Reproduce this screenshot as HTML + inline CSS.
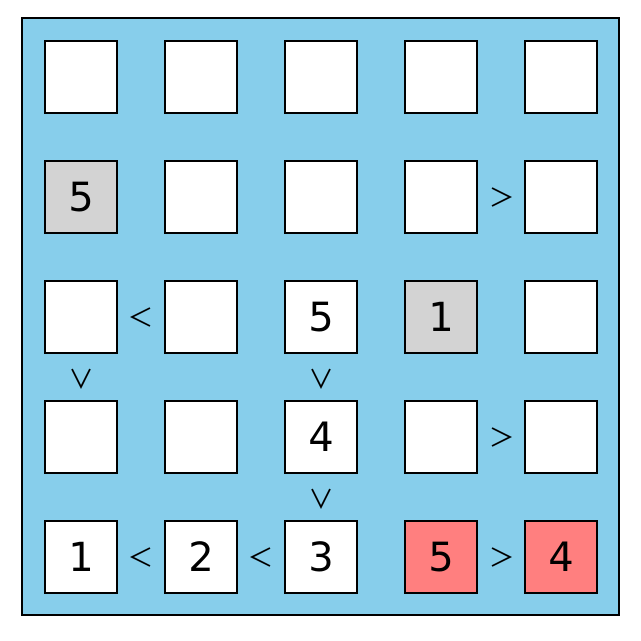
<!DOCTYPE html>
<html><head><style>body{margin:0;background:#fff}</style></head><body>
<svg width="641" height="636" xmlns="http://www.w3.org/2000/svg" font-family="DejaVu Sans, Liberation Sans, sans-serif">
<rect x="22" y="18" width="597" height="597" fill="#87ceeb" stroke="#000" stroke-width="2"/>
<g stroke="#000" stroke-width="2">
<rect x="45" y="41" width="72" height="72" fill="#fff"/><rect x="165" y="41" width="72" height="72" fill="#fff"/><rect x="285" y="41" width="72" height="72" fill="#fff"/><rect x="405" y="41" width="72" height="72" fill="#fff"/><rect x="525" y="41" width="72" height="72" fill="#fff"/>
<rect x="45" y="161" width="72" height="72" fill="#d3d3d3"/><rect x="165" y="161" width="72" height="72" fill="#fff"/><rect x="285" y="161" width="72" height="72" fill="#fff"/><rect x="405" y="161" width="72" height="72" fill="#fff"/><rect x="525" y="161" width="72" height="72" fill="#fff"/>
<rect x="45" y="281" width="72" height="72" fill="#fff"/><rect x="165" y="281" width="72" height="72" fill="#fff"/><rect x="285" y="281" width="72" height="72" fill="#fff"/><rect x="405" y="281" width="72" height="72" fill="#d3d3d3"/><rect x="525" y="281" width="72" height="72" fill="#fff"/>
<rect x="45" y="401" width="72" height="72" fill="#fff"/><rect x="165" y="401" width="72" height="72" fill="#fff"/><rect x="285" y="401" width="72" height="72" fill="#fff"/><rect x="405" y="401" width="72" height="72" fill="#fff"/><rect x="525" y="401" width="72" height="72" fill="#fff"/>
<rect x="45" y="521" width="72" height="72" fill="#fff"/><rect x="165" y="521" width="72" height="72" fill="#fff"/><rect x="285" y="521" width="72" height="72" fill="#fff"/><rect x="405" y="521" width="72" height="72" fill="#f08080" style="fill:#ff7f7f"/><rect x="525" y="521" width="72" height="72" fill="#ff7f7f"/>
</g>
<g font-size="40" text-anchor="middle" fill="#000">
<text x="81" y="211">5</text>
<text x="321" y="331">5</text><text x="441" y="331">1</text>
<text x="321" y="451">4</text>
<text x="81" y="571">1</text><text x="201" y="571">2</text><text x="321" y="571">3</text><text x="441" y="571">5</text><text x="561" y="571">4</text>
</g>
<g stroke="#000" stroke-width="1.8" fill="none">
<polyline points="492,188 510,197 492,206"/>
<polyline points="150,308 132,317 150,326"/>
<polyline points="72,369 81,387 90,369"/>
<polyline points="312,369 321,387 330,369"/>
<polyline points="492,428 510,437 492,446"/>
<polyline points="312,489 321,507 330,489"/>
<polyline points="150,548 132,557 150,566"/>
<polyline points="270,548 252,557 270,566"/>
<polyline points="492,548 510,557 492,566"/>
</g>
</svg>
</body></html>
